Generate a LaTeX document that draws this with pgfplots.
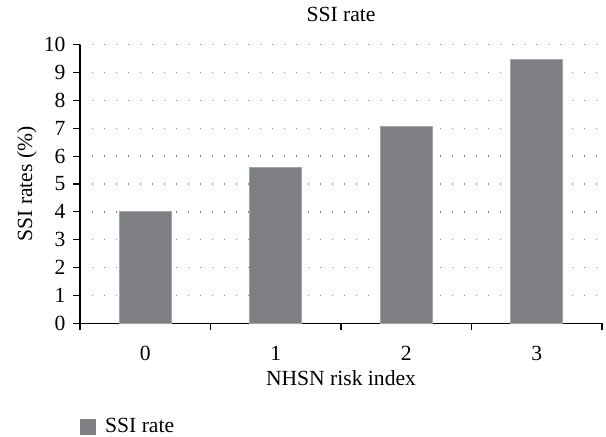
\documentclass[border=0pt]{standalone}
\usepackage{fontspec}
\setmainfont{Liberation Serif}
\usepackage{pgfplots}
\pgfplotsset{compat=1.18}
\definecolor{barfill}{HTML}{7E7F83}
\definecolor{baredge}{HTML}{A3A4A7}
\definecolor{griddot}{HTML}{8A8A8A}

\begin{document}
\fontsize{10.8}{13}\selectfont
\begin{tikzpicture}
\path[use as bounding box] (-40pt,-56.85pt) rectangle (263pt,161.65pt);
\begin{axis}[
    at={(0,0)}, anchor=south west,
    width=261pt, height=139.3pt, scale only axis,
    xmin=0, xmax=4, ymin=0, ymax=10,
    axis x line*=bottom, axis y line*=left,
    axis line style={line width=0.6pt, -},
    xtick={0.5,1.5,2.5,3.5},
    xticklabels={0,1,2,3},
    major x tick style={draw=none},
    minor xtick={0,1,2,3,4},
    minor x tick style={line width=0.6pt, black},
    minor tick length=3.5pt,
    ytick={0,1,...,10},
    major tick length=3.5pt,
    tick align=outside,
    ytick style={line width=0.6pt, black},
    ymajorgrids,
    major grid style={griddot, line width=0.7pt, dash pattern=on 0.6pt off 5.4pt},
    /pgf/number format/assume math mode=true,
    ticklabel style={font=\fontsize{10.8}{13}\selectfont},
    xticklabel style={yshift=-4pt},
    title={SSI rate},
    every axis title shift=0pt,
    title style={anchor=center, yshift=0pt, at={(rel axis cs:0.5,1.11)}},
    xlabel={NHSN risk index},
    xlabel style={anchor=center, yshift=0pt, at={(rel axis cs:0.5,-0.196)}},
    ylabel={SSI rates (\%)},
    ylabel style={anchor=center, at={(rel axis cs:-0.1015,0.5)}},
    legend style={at={(rel axis cs:0,-0.372)}, anchor=west, draw=none, fill=none,
        inner sep=0pt, font=\fontsize{10.8}{13}\selectfont,
        nodes={inner xsep=4.5pt}},
    legend cell align=left,
    legend image code/.code={\fill[barfill] (0pt,-3.75pt) rectangle (7.5pt,3.75pt);},
]
\addplot[ybar, bar width=0.4, fill=barfill, draw=baredge, line width=0.4pt]
    coordinates {(0.5,4.0) (1.5,5.6) (2.5,7.07) (3.5,9.48)};
\addlegendentry{SSI rate}
\end{axis}
\end{tikzpicture}
\end{document}
